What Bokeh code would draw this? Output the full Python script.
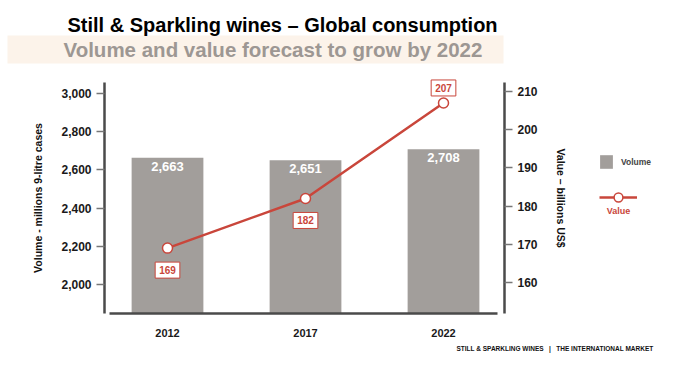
from bokeh.plotting import figure
from bokeh.models import (Range1d, LinearAxis, FixedTicker, NumeralTickFormatter,
                          ColumnDataSource, LabelSet, Label, Legend, LegendItem, BoxAnnotation)
from bokeh.core.properties import value
from bokeh.embed import file_html
from bokeh.resources import INLINE

# ---- data ----
years = [2012, 2017, 2022]
volume = [2663, 2651, 2708]          # millions 9-litre cases
value_bn = [169, 182, 207]           # billions US$
volume_ticks = [2000, 2200, 2400, 2600, 2800, 3000]
value_ticks = [160, 170, 180, 190, 200, 210]

title_text = "Still & Sparkling wines \u2013 Global consumption"
subtitle_text = "Volume and value forecast to grow by 2022"
footer_text = "STILL & SPARKLING WINES\u00a0\u00a0\u00a0|\u00a0\u00a0\u00a0THE INTERNATIONAL MARKET"
left_label = "Volume - millions 9-litre cases"
right_label = "Value \u2013 billions US$"

# ---- style / layout ----
FONT = "Liberation Sans"
BAR = "#a29e9b"
RED = "#c9463b"
AXIS = "#4a4a4a"

W, H = 681, 368

# the plotting frame covers the whole canvas; axes are pinned inside it
X0, XPX = 2005.949, 27.6           # data x at left canvas edge, px per year
x_rng = Range1d(X0, X0 + W / XPX)
VOL_PER_PX = 1000 / 191.0
vol_rng = Range1d(2000 - 84 * VOL_PER_PX, 2000 + 284 * VOL_PER_PX)
VAL_PER_PX = 10 / 38.2
val_rng = Range1d(160 - 86 * VAL_PER_PX, 160 + 282 * VAL_PER_PX)

left_x = X0 + 104 / XPX
right_x = X0 + 504 / XPX
base_vol = 2000 - 29 * VOL_PER_PX          # level of the x axis
top_vol = 3000 + 11 * VOL_PER_PX
base_val = 160 - 31 * VAL_PER_PX
top_val = 210 + 9 * VAL_PER_PX

p = figure(width=W, height=H, output_backend="svg", toolbar_location=None, title=None,
           x_range=x_rng, y_range=vol_rng, x_axis_location=None, y_axis_location=None,
           min_border=0, min_border_left=0, min_border_right=0, min_border_top=0,
           min_border_bottom=0)
p.extra_y_ranges = {"value": val_rng}
p.outline_line_color = None
p.grid.grid_line_color = None
p.background_fill_color = "white"
p.border_fill_color = "white"


def sy(py):
    return H - py


# band behind subtitle
p.add_layout(BoxAnnotation(left=7, right=503, top=sy(35), bottom=sy(63),
                           left_units="screen", right_units="screen",
                           top_units="screen", bottom_units="screen",
                           fill_color="#fcf3ea", fill_alpha=1, line_color=None,
                           level="underlay"))

src = ColumnDataSource(dict(year=years, volume=volume,
                            vtext=[f"{v:,}" for v in volume]))
bars = p.vbar(x="year", top="volume", bottom=base_vol, width=2.6, source=src,
              fill_color=BAR, line_color=None)

p.add_layout(LabelSet(x="year", y="volume", text="vtext", source=src,
                      y_offset=-4, text_align="center", text_baseline="top",
                      text_color="white", text_font=value(FONT), text_font_style="bold",
                      text_font_size="13px"))

line = p.line(years, value_bn, y_range_name="value", line_color=RED, line_width=2.5)
dots = p.scatter(years, value_bn, y_range_name="value", size=10, fill_color="white",
                 line_color=RED, line_width=1.5)

label_kw = {}
if "padding" in Label.properties():
    label_kw["padding"] = 4
n = len(years)
for i, (yr, v) in enumerate(zip(years, value_bn)):
    p.add_layout(Label(x=yr, y=v, y_range_name="value", text=str(v),
                       y_offset=(15 if i == n - 1 else -22),
                       text_align="center", text_baseline="middle",
                       text_color=RED, text_font=FONT, text_font_style="bold",
                       text_font_size="10px", background_fill_color="white",
                       border_line_color=RED, border_line_width=1, **label_kw))

# axes pinned at fixed data positions
ya = LinearAxis(ticker=FixedTicker(ticks=volume_ticks),
                formatter=NumeralTickFormatter(format="0,0"),
                axis_label=left_label, fixed_location=left_x,
                bounds=(base_vol, top_vol))
yb = LinearAxis(y_range_name="value", ticker=FixedTicker(ticks=value_ticks),
                axis_label=right_label, fixed_location=right_x,
                bounds=(base_val, top_val))
p.add_layout(ya, "left")
p.add_layout(yb, "right")

for ax in (ya, yb):
    ax.axis_line_color = AXIS
    ax.axis_line_width = 2.5
    ax.major_tick_in = 0
    ax.major_tick_out = 8
    ax.major_tick_line_color = "#777777"
    ax.major_tick_line_width = 1.5
    ax.minor_tick_line_color = None
    ax.major_label_standoff = 5
    ax.major_label_text_font = FONT
    ax.major_label_text_font_style = "bold"
    ax.major_label_text_font_size = "12px"
    ax.major_label_text_color = "#1a1a1a"
    ax.axis_label_text_font = FONT
    ax.axis_label_text_font_style = "bold"
    ax.axis_label_text_font_size = "10.5px"
    ax.axis_label_text_color = "#111111"
    ax.axis_label_standoff = 14

xa = LinearAxis(ticker=FixedTicker(ticks=years), fixed_location=base_vol,
                bounds=(X0 + 109 / XPX, X0 + 497 / XPX))
p.add_layout(xa, "below")
xa.axis_line_color = AXIS
xa.axis_line_width = 2.5
xa.major_tick_line_color = None
xa.minor_tick_line_color = None
xa.major_label_standoff = 9
xa.major_label_text_font = FONT
xa.major_label_text_font_style = "bold"
xa.major_label_text_font_size = "11px"
xa.major_label_text_color = "#1a1a1a"

# legends
leg_common = dict(padding=0, margin=0, border_line_color=None, background_fill_alpha=0,
                  label_text_font=FONT, label_text_font_style="bold",
                  label_text_font_size="8.5px", label_height=10, spacing=0)
leg1 = Legend(items=[LegendItem(label="Volume", renderers=[bars])],
              location=(598, sy(170)), glyph_width=16, glyph_height=17,
              label_standoff=7, **leg_common)
leg2 = Legend(items=[LegendItem(label=" ", renderers=[line, dots])],
              location=(599, sy(208)), glyph_width=38, glyph_height=22,
              label_standoff=0, **leg_common)
p.add_layout(leg1)
p.add_layout(leg2)
p.add_layout(Label(x=618, y=sy(210), x_units="screen", y_units="screen",
                   text="Value", text_align="center", text_baseline="middle",
                   text_color=RED, text_font=FONT, text_font_style="bold",
                   text_font_size="9px"))

# titles and footer
p.add_layout(Label(x=67, y=sy(24), x_units="screen", y_units="screen",
                   text=title_text, text_align="left", text_baseline="middle",
                   text_color="#000000", text_font=FONT, text_font_style="bold",
                   text_font_size="20px"))
p.add_layout(Label(x=63, y=sy(49), x_units="screen", y_units="screen",
                   text=subtitle_text, text_align="left", text_baseline="middle",
                   text_color="#9d9793", text_font=FONT, text_font_style="bold",
                   text_font_size="20.5px"))
p.add_layout(Label(x=456, y=sy(348), x_units="screen", y_units="screen",
                   text=footer_text, text_align="left", text_baseline="middle",
                   text_color="#111111", text_font=FONT, text_font_style="bold",
                   text_font_size="6.5px"))

open("out.html", "w").write(file_html(p, INLINE))
